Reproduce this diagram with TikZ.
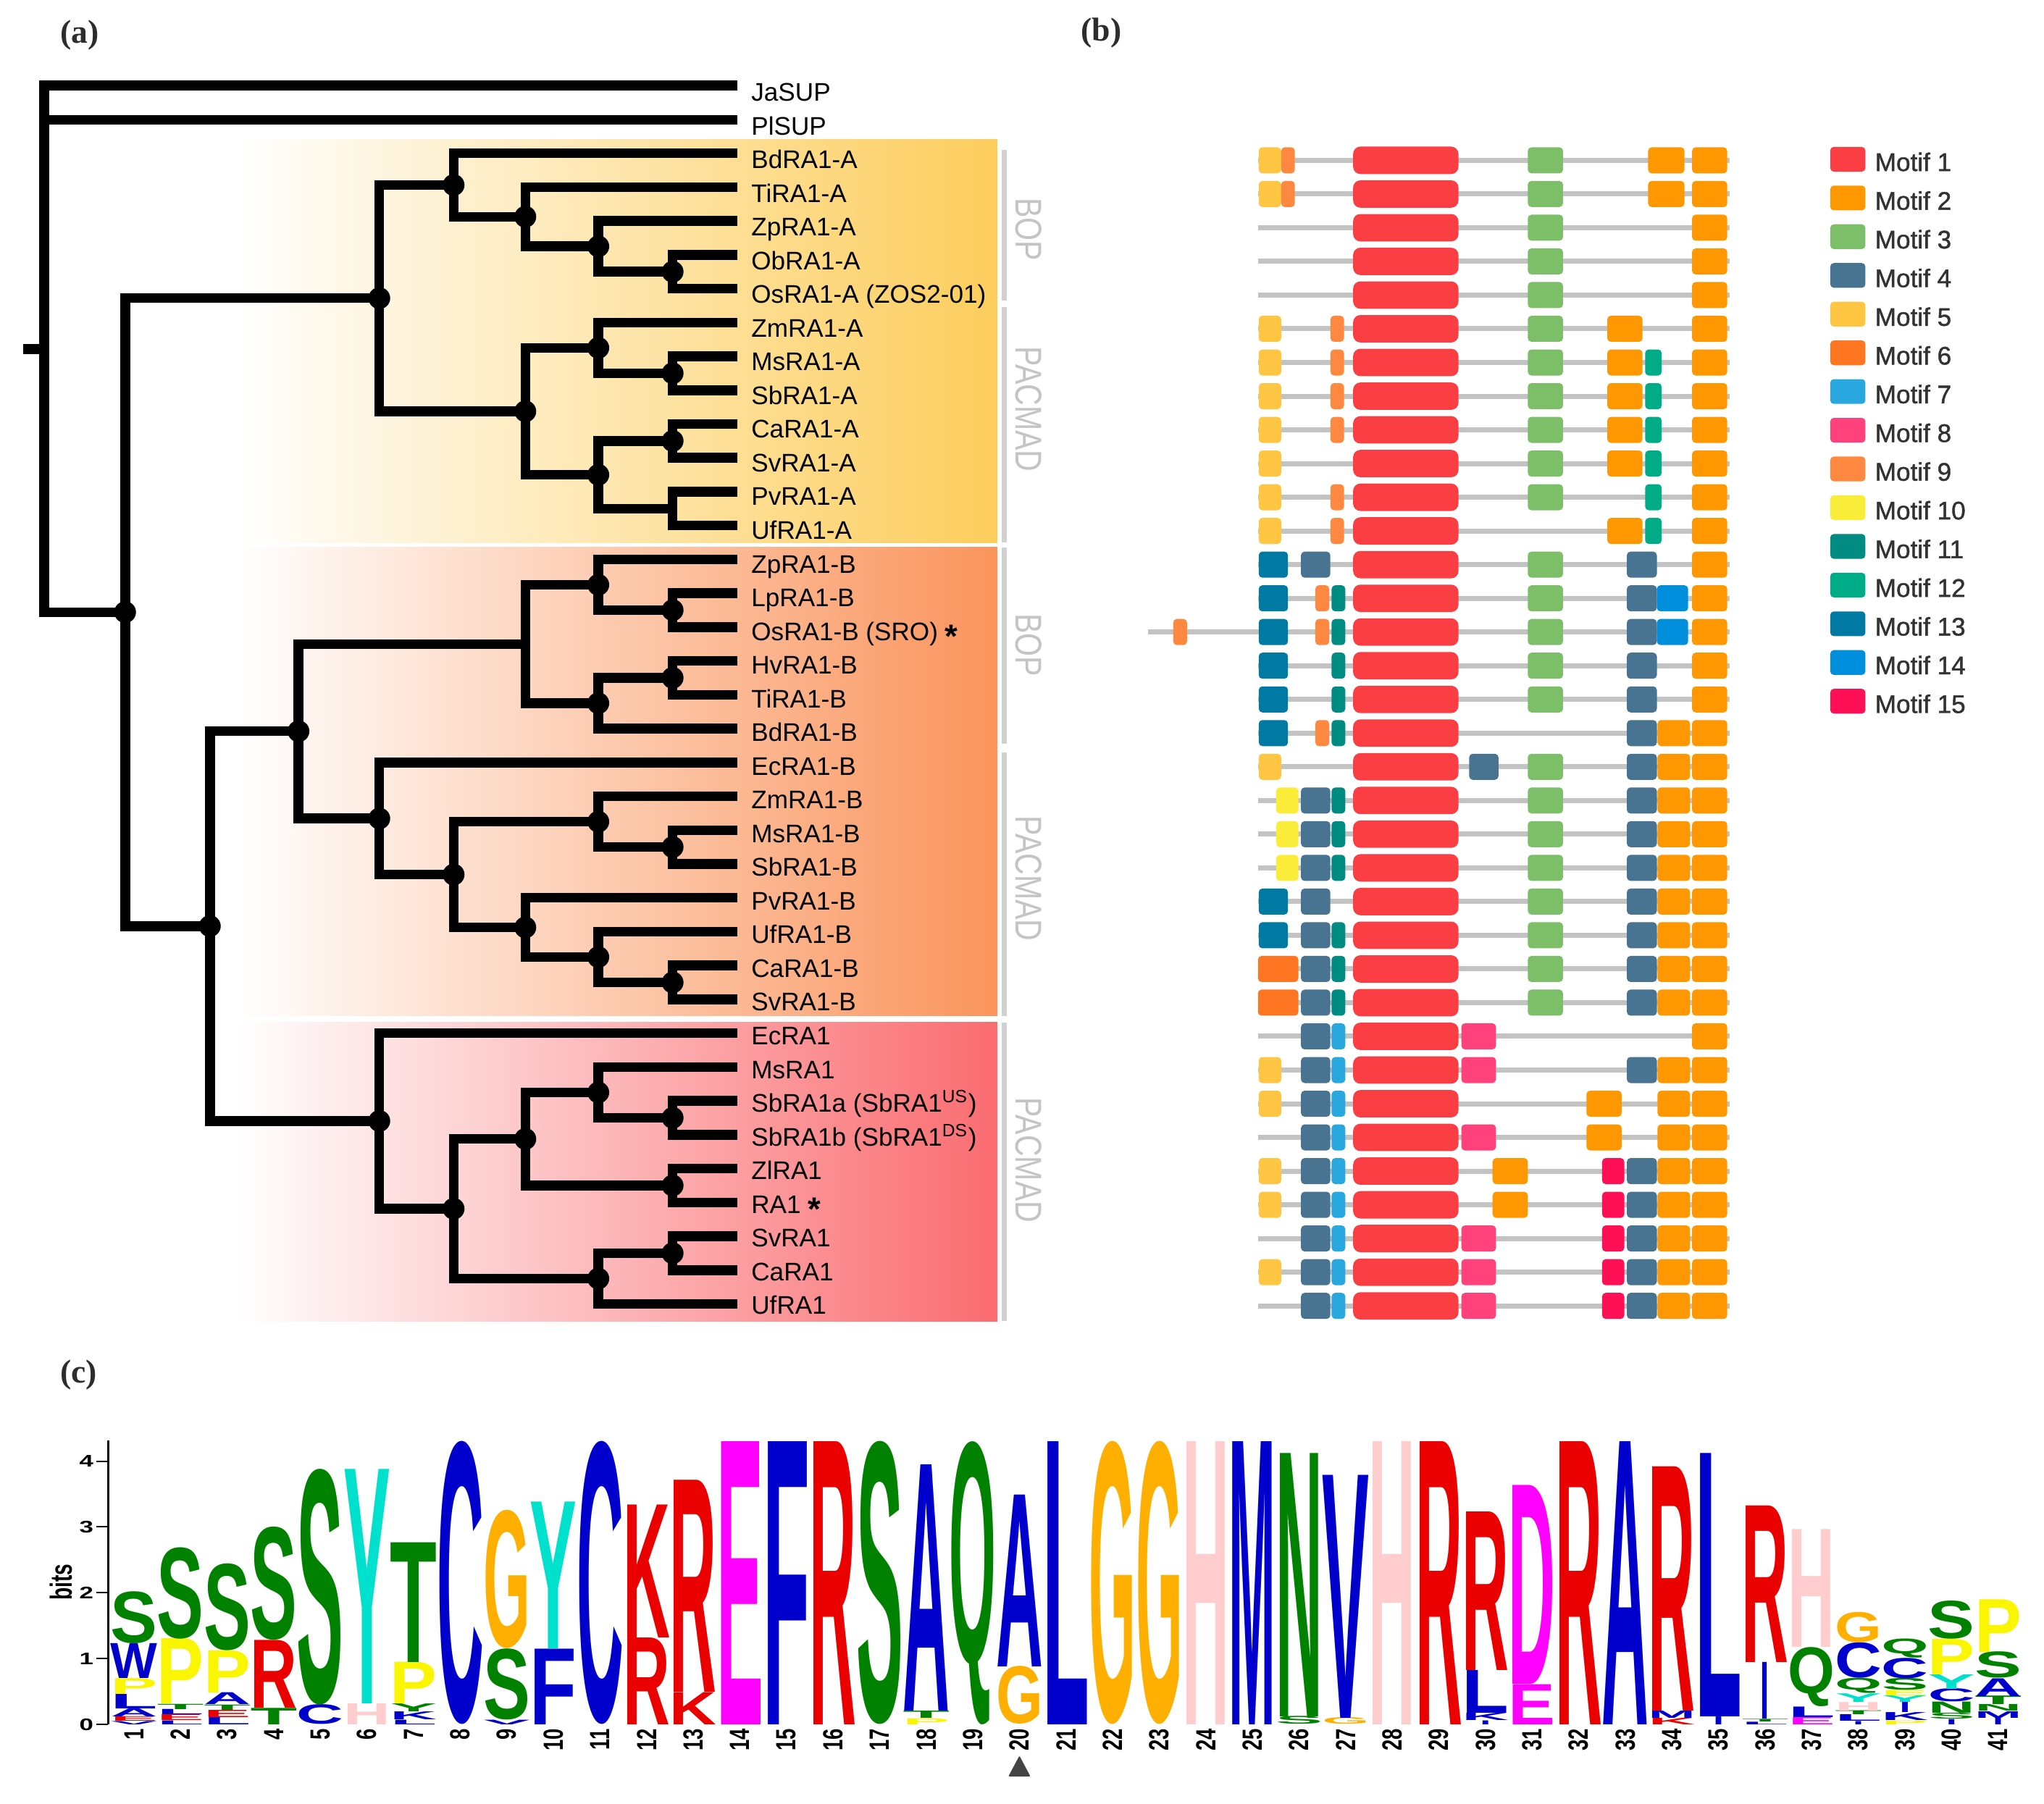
\documentclass[tikz,border=0pt]{standalone}
\usepackage{fontspec}
\setmainfont{Liberation Sans}
\newfontfamily\panelfont{Liberation Serif}
\newfontfamily\legfont[FakeBold=1.2]{Liberation Sans}
\usepackage{graphicx}
\definecolor{boxA}{RGB}{252,205,92}
\definecolor{boxB}{RGB}{250,148,92}
\definecolor{boxC}{RGB}{250,108,112}
\definecolor{brk}{RGB}{208,208,208}
\definecolor{grpc}{RGB}{196,196,196}
\definecolor{bbone}{RGB}{195,195,195}
\definecolor{pancol}{RGB}{45,45,45}
\definecolor{legcol}{RGB}{50,50,50}
\definecolor{tricol}{RGB}{68,68,68}
\definecolor{mot1}{RGB}{250,62,68}
\definecolor{mot2}{RGB}{255,152,0}
\definecolor{mot3}{RGB}{125,190,105}
\definecolor{mot4}{RGB}{72,116,146}
\definecolor{mot5}{RGB}{255,198,68}
\definecolor{mot6}{RGB}{255,118,34}
\definecolor{mot7}{RGB}{40,168,222}
\definecolor{mot8}{RGB}{255,66,124}
\definecolor{mot9}{RGB}{255,136,64}
\definecolor{mot10}{RGB}{250,237,58}
\definecolor{mot11}{RGB}{0,140,130}
\definecolor{mot12}{RGB}{0,172,136}
\definecolor{mot13}{RGB}{0,122,163}
\definecolor{mot14}{RGB}{0,143,220}
\definecolor{mot15}{RGB}{255,16,86}
\definecolor{lgG}{RGB}{0,130,0}
\definecolor{lgB}{RGB}{0,0,205}
\definecolor{lgR}{RGB}{235,0,0}
\definecolor{lgY}{RGB}{250,245,0}
\definecolor{lgO}{RGB}{255,175,0}
\definecolor{lgC}{RGB}{0,225,205}
\definecolor{lgP}{RGB}{255,205,205}
\definecolor{lgM}{RGB}{255,0,255}

\newcount\lgcnt
\newcommand\logoL[6][0.648cm]{%
  \pgfmathsetlengthmacro\lgh{0.909cm*((#4)-(#3))}%
  \global\advance\lgcnt by 1
  \node[inner sep=0pt,outer sep=0pt,anchor=south,text=#6] (lg\the\lgcnt) at ({102.8+35.75*((#2)-1)},{1323-50.5*(#3)}) {\resizebox*{#1}{\lgh}{\bfseries #5}};%
}
\newcommand\motif[4]{\fill[#4,rounded corners=0.05cm] (#2,{123+25.85*(#1)-10}) rectangle (#3,{123+25.85*(#1)+10});}
\newcommand\backb[2][965]{\draw[bbone,line width=0.07cm] (#1,{123+25.85*(#2)}) -- (1327,{123+25.85*(#2)});}
\newcommand\mtfA[1]{\fill[mot1,rounded corners=0.1cm] (1038,{123+25.85*(#1)-10.5}) rectangle (1118.8,{123+25.85*(#1)+10.5});}
\newcommand\mtfBz[1]{\motif{#1}{1298}{1325}{mot2}}
\newcommand\mtfBa[1]{\motif{#1}{1264.3}{1292.2}{mot2}}
\newcommand\mtfBb[1]{\motif{#1}{1233}{1260}{mot2}}
\newcommand\mtfBy[1]{\motif{#1}{1271.5}{1296.5}{mot2}}
\newcommand\mtfBc[1]{\motif{#1}{1217}{1244}{mot2}}
\newcommand\mtfBd[1]{\motif{#1}{1145}{1172}{mot2}}
\newcommand\mtfC[1]{\motif{#1}{1172}{1199}{mot3}}
\newcommand\mtfDl[1]{\motif{#1}{998}{1020.5}{mot4}}
\newcommand\mtfDr[1]{\motif{#1}{1248}{1271}{mot4}}
\newcommand\mtfDm[1]{\motif{#1}{1127}{1149.5}{mot4}}
\newcommand\mtfE[1]{\motif{#1}{965.6}{982.8}{mot5}}
\newcommand\mtfFn[1]{\motif{#1}{1020.6}{1031}{mot9}}
\newcommand\mtfFw[1]{\motif{#1}{965}{996}{mot6}}
\newcommand\mtfG[1]{\motif{#1}{1021.5}{1032}{mot7}}
\newcommand\mtfH[1]{\motif{#1}{1121}{1147.6}{mot8}}
\newcommand\mtfIa[1]{\motif{#1}{982.8}{993.3}{mot9}}
\newcommand\mtfIb[1]{\motif{#1}{1009}{1019.7}{mot9}}
\newcommand\mtfJ[1]{\motif{#1}{979}{996}{mot10}}
\newcommand\mtfK[1]{\motif{#1}{1021.5}{1032}{mot11}}
\newcommand\mtfL[1]{\motif{#1}{1262}{1274.7}{mot12}}
\newcommand\mtfM[1]{\motif{#1}{965.6}{988}{mot13}}
\newcommand\mtfN[1]{\motif{#1}{1271}{1295}{mot14}}
\newcommand\mtfO[1]{\motif{#1}{1229}{1246}{mot15}}
\newcommand\astk{\raisebox{-0.3em}{\fontsize{13}{13}\selectfont\bfseries *}}

\begin{document}
\begin{tikzpicture}[x=0.018cm,y=-0.018cm,
  br/.style={line width=0.135cm,line join=miter},
  leaf/.style={anchor=base west,inner sep=0pt,font=\fontsize{10}{12}\selectfont},
  panel/.style={anchor=west,inner sep=0pt,text=pancol,font=\panelfont\bfseries\fontsize{13}{14}\selectfont},
  brkt/.style={draw=brk,line width=0.072cm},
  grp/.style={rotate=-90,inner sep=0pt,text=grpc,font=\fontsize{11.7}{12}\selectfont},
  leg/.style={anchor=base west,inner sep=0pt,text=legcol,font=\legfont\fontsize{10}{12}\selectfont},
  collab/.style={rotate=90,anchor=east,inner sep=0pt,font=\bfseries\fontsize{7.8}{8}\selectfont}]
\useasboundingbox (0,0) rectangle (1568,1384);
\fill[white] (0,0) rectangle (1568,1384);

% panel labels
\node[panel] (pa) at (46,27) {(a)};
\node[panel] (pb) at (829,25.5) {(b)};
\node[panel] (pc) at (46,1055) {(c)};

% gradient boxes
\shade[left color=white,right color=boxA] (182,107) rectangle (765,416.5);
\shade[left color=white,right color=boxB] (182,420) rectangle (765,779.5);
\shade[left color=white,right color=boxC] (182,784) rectangle (765,1014);

% group brackets
\draw[brkt] (770.2,114.8) -- (770.2,230.7);
\draw[brkt] (770.2,235.7) -- (770.2,416.4);
\draw[brkt] (770.2,420) -- (770.2,570.4);
\draw[brkt] (770.2,577.4) -- (770.2,779.4);
\draw[brkt] (770.2,784.5) -- (770.2,1013.4);
\node[grp] (g1) at (789,176) {\scalebox{1}[1.25]{BOP}};
\node[grp] (g2) at (789,314) {\scalebox{1}[1.25]{PACMAD}};
\node[grp] (g3) at (789,495) {\scalebox{1}[1.25]{BOP}};
\node[grp] (g4l) at (789,674) {\scalebox{1}[1.25]{PACMAD}};
\node[grp] (g5l) at (789,890) {\scalebox{1}[1.25]{PACMAD}};

% tree coordinates
\foreach \i in {0,...,34} {\coordinate (L\i) at (565.7,{117.6+25.965*\i});}
\coordinate (Ja) at (565.7,65.7);
\coordinate (Pl) at (565.7,92.1);
\coordinate (a8) at (516,208.48);
\coordinate (a7) at (459,189.01);
\coordinate (a6) at (403,166.29);
\coordinate (a5) at (348,141.95);
\coordinate (b8) at (516,286.38);
\coordinate (b7) at (459,266.90);
\coordinate (c8) at (516,338.31);
\coordinate (d8) at (516,390.24);
\coordinate (c7) at (459,364.27);
\coordinate (b6) at (403,315.58);
\coordinate (aA) at (291,228.77);
\coordinate (e8) at (516,468.13);
\coordinate (e7) at (459,448.66);
\coordinate (f8) at (516,520.06);
\coordinate (f7) at (459,539.53);
\coordinate (e6) at (403,494.10);
\coordinate (g8) at (516,649.88);
\coordinate (g7) at (459,630.41);
\coordinate (h8) at (516,753.75);
\coordinate (h7) at (459,734.27);
\coordinate (h6) at (403,711.55);
\coordinate (g5) at (348,670.98);
\coordinate (g4) at (291,627.98);
\coordinate (B3) at (229,561.04);
\coordinate (i8) at (516,857.61);
\coordinate (i7) at (459,838.13);
\coordinate (j8) at (516,909.53);
\coordinate (i6) at (403,873.83);
\coordinate (k8) at (516,961.47);
\coordinate (k7) at (459,980.94);
\coordinate (i5) at (348,927.38);
\coordinate (C4) at (291,860.04);
\coordinate (BC2) at (161,710.54);
\coordinate (L1n) at (96,469.66);
\coordinate (root) at (33.8,267.7);
\coordinate (stub) at (18,267.7);
\coordinate (PlS) at (33.8,92.1);

% branches
\draw[br] (L3) -| (a8) |- (L4);
\draw[br] (L2) -| (a7) |- (a8);
\draw[br] (L1) -| (a6) |- (a7);
\draw[br] (L0) -| (a5) |- (a6);
\draw[br] (L6) -| (b8) |- (L7);
\draw[br] (L5) -| (b7) |- (b8);
\draw[br] (L8) -| (c8) |- (L9);
\draw[br] (L10) -| (d8) |- (L11);
\draw[br] (c8) -| (c7) |- (d8);
\draw[br] (b7) -| (b6) |- (c7);
\draw[br] (a5) -| (aA) |- (b6);
\draw[br] (L13) -| (e8) |- (L14);
\draw[br] (L12) -| (e7) |- (e8);
\draw[br] (L15) -| (f8) |- (L16);
\draw[br] (f8) -| (f7) |- (L17);
\draw[br] (e7) -| (e6) |- (f7);
\draw[br] (L20) -| (g8) |- (L21);
\draw[br] (L19) -| (g7) |- (g8);
\draw[br] (L24) -| (h8) |- (L25);
\draw[br] (L23) -| (h7) |- (h8);
\draw[br] (L22) -| (h6) |- (h7);
\draw[br] (g7) -| (g5) |- (h6);
\draw[br] (L18) -| (g4) |- (g5);
\draw[br] (e6) -| (B3) |- (g4);
\draw[br] (L28) -| (i8) |- (L29);
\draw[br] (L27) -| (i7) |- (i8);
\draw[br] (L30) -| (j8) |- (L31);
\draw[br] (i7) -| (i6) |- (j8);
\draw[br] (L32) -| (k8) |- (L33);
\draw[br] (k8) -| (k7) |- (L34);
\draw[br] (i6) -| (i5) |- (k7);
\draw[br] (L26) -| (C4) |- (i5);
\draw[br] (B3) -| (BC2) |- (C4);
\draw[br] (aA) -| (L1n) |- (BC2);
\draw[br] (Ja) -| (root) |- (L1n);
\draw[br] (PlS) -- (Pl);
\draw[br] (stub) -- (root);
\foreach \n in {a8,a7,a6,a5,b8,b7,c8,c7,b6,aA,e8,e7,f8,f7,g8,g7,h8,h7,h6,g5,g4,B3,i8,i7,j8,i6,k8,k7,i5,C4,BC2,L1n}
  {\fill (\n) circle (0.15cm);}

% leaf labels
\node[leaf] (labJa) at (576,77.6) {JaSUP};
\node[leaf] (labPl) at (576,103.9) {PlSUP};
\foreach \i/\t in {0/BdRA1-A,1/TiRA1-A,2/ZpRA1-A,3/ObRA1-A,4/{OsRA1-A (ZOS2-01)},5/ZmRA1-A,6/MsRA1-A,7/SbRA1-A,8/CaRA1-A,9/SvRA1-A,10/PvRA1-A,11/UfRA1-A,12/ZpRA1-B,13/LpRA1-B,14/{OsRA1-B (SRO) \astk},15/HvRA1-B,16/TiRA1-B,17/BdRA1-B,18/EcRA1-B,19/ZmRA1-B,20/MsRA1-B,21/SbRA1-B,22/PvRA1-B,23/UfRA1-B,24/CaRA1-B,25/SvRA1-B,26/EcRA1,27/MsRA1,28/{SbRA1a (SbRA1\textsuperscript{US})},29/{SbRA1b (SbRA1\textsuperscript{DS})},30/ZlRA1,31/{RA1 \astk},32/SvRA1,33/CaRA1,34/UfRA1}
  {\node[leaf] (lab\i) at (576,{129.3+25.853*\i}) {\t};}

% motif rows
\backb{0}\mtfE{0}\mtfIa{0}\mtfA{0}\mtfC{0}\mtfBa{0}\mtfBz{0}
\backb{1}\mtfE{1}\mtfIa{1}\mtfA{1}\mtfC{1}\mtfBa{1}\mtfBz{1}
\backb{2}\mtfA{2}\mtfC{2}\mtfBz{2}
\backb{3}\mtfA{3}\mtfC{3}\mtfBz{3}
\backb{4}\mtfA{4}\mtfC{4}\mtfBz{4}
\backb{5}\mtfE{5}\mtfFn{5}\mtfA{5}\mtfC{5}\mtfBb{5}\mtfBz{5}
\backb{6}\mtfE{6}\mtfFn{6}\mtfA{6}\mtfC{6}\mtfBb{6}\mtfL{6}\mtfBz{6}
\backb{7}\mtfE{7}\mtfFn{7}\mtfA{7}\mtfC{7}\mtfBb{7}\mtfL{7}\mtfBz{7}
\backb{8}\mtfE{8}\mtfFn{8}\mtfA{8}\mtfC{8}\mtfBb{8}\mtfL{8}\mtfBz{8}
\backb{9}\mtfE{9}\mtfA{9}\mtfC{9}\mtfBb{9}\mtfL{9}\mtfBz{9}
\backb{10}\mtfE{10}\mtfFn{10}\mtfA{10}\mtfC{10}\mtfL{10}\mtfBz{10}
\backb{11}\mtfE{11}\mtfFn{11}\mtfA{11}\mtfBb{11}\mtfL{11}\mtfBz{11}
\backb{12}\mtfM{12}\mtfDl{12}\mtfA{12}\mtfC{12}\mtfDr{12}\mtfBz{12}
\backb{13}\mtfM{13}\mtfIb{13}\mtfK{13}\mtfA{13}\mtfC{13}\mtfDr{13}\mtfN{13}\mtfBz{13}
\backb[880.5]{14}\motif{14}{900}{910.6}{mot9}\mtfM{14}\mtfIb{14}\mtfK{14}\mtfA{14}\mtfC{14}\mtfDr{14}\mtfN{14}\mtfBz{14}
\backb{15}\mtfM{15}\mtfK{15}\mtfA{15}\mtfC{15}\mtfDr{15}\mtfBz{15}
\backb{16}\mtfM{16}\mtfK{16}\mtfA{16}\mtfC{16}\mtfDr{16}\mtfBz{16}
\backb{17}\mtfM{17}\mtfIb{17}\mtfK{17}\mtfA{17}\mtfDr{17}\mtfBy{17}\mtfBz{17}
\backb{18}\mtfE{18}\mtfA{18}\mtfDm{18}\mtfC{18}\mtfDr{18}\mtfBy{18}\mtfBz{18}
\foreach \r in {19,20,21}{\backb{\r}\mtfJ{\r}\mtfDl{\r}\mtfK{\r}\mtfA{\r}\mtfC{\r}\mtfDr{\r}\mtfBy{\r}\mtfBz{\r}}
\backb{22}\mtfM{22}\mtfDl{22}\mtfA{22}\mtfC{22}\mtfDr{22}\mtfBy{22}\mtfBz{22}
\backb{23}\mtfM{23}\mtfDl{23}\mtfK{23}\mtfA{23}\mtfC{23}\mtfDr{23}\mtfBy{23}\mtfBz{23}
\foreach \r in {24,25}{\backb{\r}\mtfFw{\r}\mtfDl{\r}\mtfK{\r}\mtfA{\r}\mtfC{\r}\mtfDr{\r}\mtfBy{\r}\mtfBz{\r}}
\backb{26}\mtfDl{26}\mtfG{26}\mtfA{26}\mtfH{26}\mtfBz{26}
\backb{27}\mtfE{27}\mtfDl{27}\mtfG{27}\mtfA{27}\mtfH{27}\mtfDr{27}\mtfBy{27}\mtfBz{27}
\backb{28}\mtfE{28}\mtfDl{28}\mtfG{28}\mtfA{28}\mtfBc{28}\mtfBy{28}\mtfBz{28}
\backb{29}\mtfDl{29}\mtfG{29}\mtfA{29}\mtfH{29}\mtfBc{29}\mtfBy{29}\mtfBz{29}
\foreach \r in {30,31}{\backb{\r}\mtfE{\r}\mtfDl{\r}\mtfG{\r}\mtfA{\r}\mtfBd{\r}\mtfO{\r}\mtfDr{\r}\mtfBy{\r}\mtfBz{\r}}
\backb{32}\mtfDl{32}\mtfG{32}\mtfA{32}\mtfH{32}\mtfO{32}\mtfDr{32}\mtfBy{32}\mtfBz{32}
\backb{33}\mtfE{33}\mtfDl{33}\mtfG{33}\mtfA{33}\mtfH{33}\mtfO{33}\mtfDr{33}\mtfBy{33}\mtfBz{33}
\backb{34}\mtfDl{34}\mtfG{34}\mtfA{34}\mtfH{34}\mtfO{34}\mtfDr{34}\mtfBy{34}\mtfBz{34}

% legend
\foreach \k in {1,...,15}{
  \fill[mot\k,rounded corners=0.05cm] (1404,{122.2+29.7*(\k-1)-9.5}) rectangle (1431,{122.2+29.7*(\k-1)+9.5});
  \node[leg] (leg\k) at (1438,{122.2+29.7*(\k-1)+9}) {Motif \k};
}

% sequence logo axis
\draw[line width=0.027cm] (83,1105) -- (83,1323);
\foreach \k in {0,...,4}{
  \draw[line width=0.02cm] (74,{1323-50.5*\k}) -- (83,{1323-50.5*\k});
  \node[anchor=east,inner sep=0pt] (tk\k) at (72,{1323-50.5*\k}) {\scalebox{1.5}[1]{\bfseries\fontsize{6.6}{7}\selectfont \k}};
}
\node[rotate=90,inner sep=0pt] (bits) at (47,1214) {\scalebox{1}[1.5]{\bfseries\fontsize{8}{9}\selectfont bits}};
\foreach \c in {1,...,41}{\node[collab] (num\c) at ({102.8+35.75*(\c-1)},1326) {\scalebox{1}[1.4]{\c}};}
\fill[tricol,rounded corners=0.6pt] (782,1347) -- (790.5,1363) -- (773.5,1363) -- cycle;

% logo letters
\logoL{1}{0}{0.05}{V}{lgB}\logoL{1}{0.05}{0.12}{E}{lgR}\logoL{1}{0.12}{0.24}{A}{lgB}\logoL{1}{0.24}{0.46}{L}{lgB}\logoL{1}{0.46}{0.70}{P}{lgY}\logoL{1}{0.70}{1.23}{W}{lgB}\logoL{1}{1.23}{2.02}{S}{lgG}
\logoL{2}{0}{0.06}{L}{lgB}\logoL{2}{0.06}{0.15}{E}{lgR}\logoL{2}{0.15}{0.23}{L}{lgB}\logoL{2}{0.23}{0.31}{T}{lgG}\logoL{2}{0.31}{1.30}{P}{lgY}\logoL{2}{1.30}{2.69}{S}{lgG}
\logoL{3}{0}{0.11}{L}{lgB}\logoL{3}{0.11}{0.22}{E}{lgR}\logoL{3}{0.22}{0.30}{T}{lgG}\logoL{3}{0.30}{0.48}{A}{lgB}\logoL{3}{0.48}{1.12}{P}{lgY}\logoL{3}{1.12}{2.44}{S}{lgG}
\logoL{4}{0}{0.25}{T}{lgG}\logoL{4}{0.25}{1.28}{R}{lgR}\logoL{4}{1.28}{3.00}{S}{lgG}
\logoL{5}{0}{0.30}{C}{lgB}\logoL{5}{0.30}{3.88}{S}{lgG}
\logoL{6}{0}{0.32}{H}{lgP}\logoL{6}{0.32}{3.88}{Y}{lgC}
\logoL{7}{0}{0.07}{L}{lgB}\logoL{7}{0.07}{0.19}{K}{lgB}\logoL{7}{0.19}{0.31}{Y}{lgG}\logoL{7}{0.31}{0.94}{P}{lgY}\logoL{7}{0.94}{2.76}{T}{lgG}
\logoL{8}{0}{4.3}{C}{lgB}
\logoL{9}{0}{0.07}{V}{lgB}\logoL{9}{0.07}{1.15}{S}{lgG}\logoL{9}{1.15}{3.25}{G}{lgO}
\logoL{10}{0}{1.15}{F}{lgB}\logoL{10}{1.15}{3.38}{Y}{lgC}
\logoL{11}{0}{4.3}{C}{lgB}
\logoL{12}{0}{1.32}{R}{lgR}\logoL{12}{1.32}{3.34}{K}{lgR}
\logoL{13}{0}{0.49}{K}{lgR}\logoL{13}{0.49}{3.71}{R}{lgR}
\logoL{14}{0}{4.3}{E}{lgM}
\logoL{15}{0}{4.3}{F}{lgB}
\logoL{16}{0}{4.3}{R}{lgR}
\logoL{17}{0}{4.3}{S}{lgG}
\logoL{18}{0}{0.09}{P}{lgY}\logoL{18}{0.09}{0.2}{T}{lgG}\logoL{18}{0.2}{3.94}{A}{lgB}
\logoL{19}{0}{4.3}{Q}{lgG}
\logoL{20}{0}{0.88}{G}{lgO}\logoL{20}{0.88}{3.49}{A}{lgB}
\logoL{21}{0}{4.3}{L}{lgB}
\logoL{22}{0}{4.3}{G}{lgO}
\logoL{23}{0}{4.3}{G}{lgO}
\logoL{24}{0}{4.3}{H}{lgP}
\logoL{25}{0}{4.3}{M}{lgB}
\logoL{26}{0}{0.12}{S}{lgG}\logoL{26}{0.12}{4.12}{N}{lgG}
\logoL{27}{0}{0.1}{G}{lgO}\logoL{27}{0.1}{3.79}{V}{lgB}
\logoL{28}{0}{4.3}{H}{lgP}
\logoL{29}{0}{4.3}{R}{lgR}
\logoL[0.15cm]{30}{0}{0.06}{I}{lgB}\logoL{30}{0.06}{0.17}{K}{lgB}\logoL{30}{0.17}{0.82}{L}{lgB}\logoL{30}{0.82}{3.23}{R}{lgR}
\logoL{31}{0}{0.61}{E}{lgM}\logoL{31}{0.61}{3.63}{D}{lgM}
\logoL{32}{0}{4.3}{R}{lgR}
\logoL{33}{0}{4.3}{A}{lgB}
\logoL{34}{0}{0.1}{K}{lgR}\logoL{34}{0.1}{0.21}{M}{lgB}\logoL{34}{0.21}{3.92}{R}{lgR}
\logoL[0.15cm]{35}{0}{0.12}{I}{lgB}\logoL{35}{0.12}{4.12}{L}{lgB}
\logoL{36}{0}{0.04}{L}{lgB}\logoL{36}{0.04}{0.08}{T}{lgG}\logoL[0.12cm]{36}{0.08}{0.94}{I}{lgB}\logoL{36}{0.94}{3.32}{R}{lgR}
\logoL{37}{0}{0.11}{E}{lgM}\logoL{37}{0.11}{0.27}{L}{lgB}\logoL{37}{0.27}{1.17}{Q}{lgG}\logoL{37}{1.17}{2.96}{H}{lgP}
\logoL[0.15cm]{38}{0}{0.05}{I}{lgB}\logoL{38}{0.05}{0.15}{L}{lgB}\logoL{38}{0.15}{0.21}{T}{lgG}\logoL{38}{0.21}{0.34}{H}{lgP}\logoL{38}{0.34}{0.47}{Y}{lgC}\logoL{38}{0.47}{0.70}{Q}{lgG}\logoL{38}{0.70}{1.24}{C}{lgB}\logoL{38}{1.24}{1.70}{G}{lgO}
\logoL{39}{0}{0.06}{P}{lgY}\logoL{39}{0.06}{0.18}{K}{lgB}\logoL[0.15cm]{39}{0.18}{0.34}{I}{lgB}\logoL{39}{0.34}{0.44}{Y}{lgC}\logoL{39}{0.44}{0.52}{E}{lgY}\logoL{39}{0.52}{0.70}{S}{lgG}\logoL{39}{0.70}{1.01}{C}{lgB}\logoL{39}{1.01}{1.30}{Q}{lgG}
\logoL[0.15cm]{40}{0}{0.08}{I}{lgB}\logoL{40}{0.08}{0.17}{S}{lgG}\logoL{40}{0.17}{0.34}{N}{lgG}\logoL{40}{0.34}{0.54}{C}{lgB}\logoL{40}{0.54}{0.76}{Y}{lgC}\logoL{40}{0.76}{1.30}{P}{lgY}\logoL{40}{1.30}{1.88}{S}{lgG}
\logoL[0.15cm]{41}{0}{0.1}{I}{lgB}\logoL{41}{0.1}{0.2}{M}{lgB}\logoL{41}{0.2}{0.3}{N}{lgG}\logoL{41}{0.3}{0.43}{T}{lgG}\logoL{41}{0.43}{0.70}{A}{lgB}\logoL{41}{0.70}{1.10}{S}{lgG}\logoL{41}{1.10}{1.90}{P}{lgY}
\end{tikzpicture}
\end{document}
